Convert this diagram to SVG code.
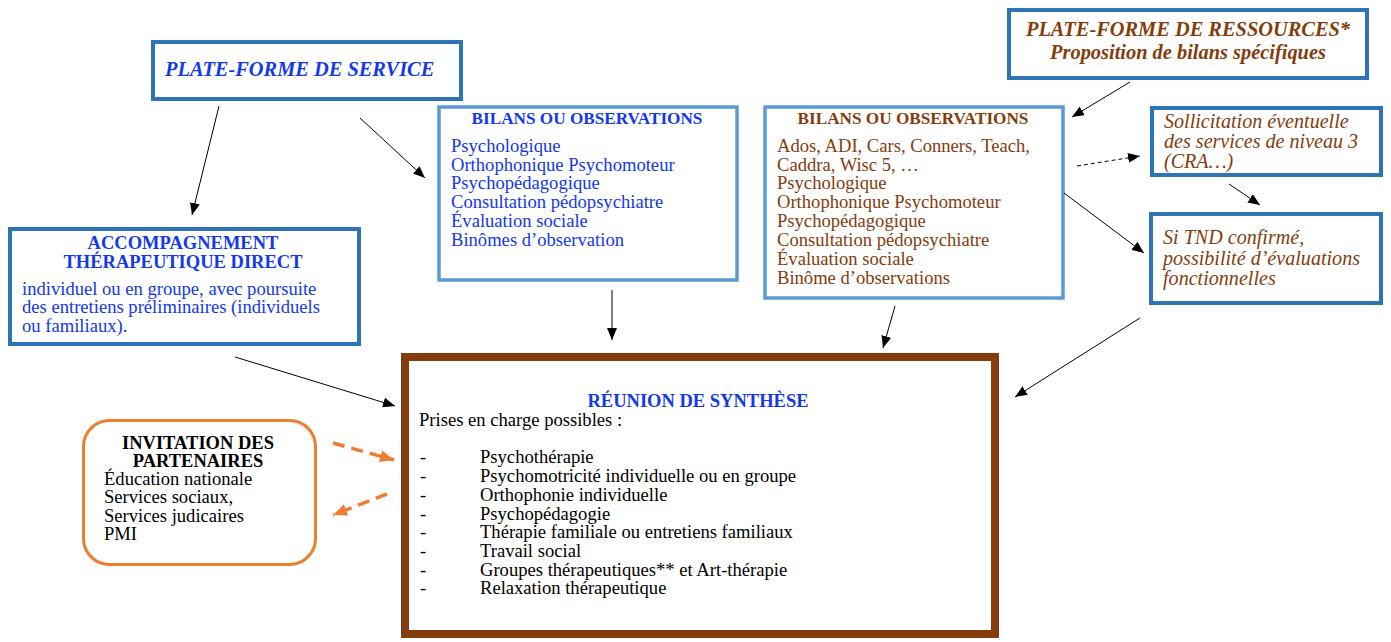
<svg xmlns="http://www.w3.org/2000/svg" width="1391" height="642" viewBox="0 0 1391 642">
<defs>
<marker id="ah" markerUnits="userSpaceOnUse" markerWidth="12" markerHeight="10" refX="12" refY="5" orient="auto"><path d="M0,0 L12,5 L0,10 z" fill="#000"/></marker>
<marker id="ao" markerUnits="userSpaceOnUse" markerWidth="14" markerHeight="12" refX="14" refY="6" orient="auto"><path d="M0,0 L14,6 L0,12 z" fill="#ed7d31"/></marker>
<style>
text{font-family:"Liberation Serif","Times New Roman",serif;}
.bd{fill:#fff;stroke:#2e74b5;stroke-width:4;}
.bl{fill:#fff;stroke:#5b9bd5;stroke-width:3.5;}
.blue{fill:#1238f0;}
.brown{fill:#843c0c;}
.blk{fill:#000;}
.body{font-size:18.6px;}
.it{font-size:20.1px;font-style:italic;}
.ttl{font-size:17.2px;font-weight:bold;}
.bt{font-size:18.5px;font-weight:bold;}
.bi{font-size:20.4px;font-weight:bold;font-style:italic;}
.c{text-anchor:middle;}
.ln{stroke:#000;stroke-width:1;fill:none;marker-end:url(#ah);}
.dn{stroke:#000;stroke-width:1;fill:none;stroke-dasharray:4 3;marker-end:url(#ah);}
.on{stroke:#ed7d31;stroke-width:3.5;fill:none;stroke-dasharray:12 7;marker-end:url(#ao);}
</style>
</defs>
<rect width="1391" height="642" fill="#fff"/>

<g id="plateforme-service">
<rect class="bd" x="153" y="42" width="308" height="57"/>
<text class="bi blue" x="165" y="76">PLATE-FORME DE SERVICE</text>
</g>

<g id="bilans-1">
<rect class="bl" x="439" y="107" width="298" height="173"/>
<text class="ttl blue c" x="587" y="124">BILANS OU OBSERVATIONS</text>
<text class="body blue" x="451" y="152">Psychologique</text>
<text class="body blue" x="451" y="171">Orthophonique Psychomoteur</text>
<text class="body blue" x="451" y="189">Psychopédagogique</text>
<text class="body blue" x="451" y="208">Consultation pédopsychiatre</text>
<text class="body blue" x="451" y="227">Évaluation sociale</text>
<text class="body blue" x="451" y="246">Binômes d’observation</text>
</g>

<g id="bilans-2">
<rect class="bl" x="765" y="107" width="298" height="191"/>
<text class="ttl brown c" x="913" y="124">BILANS OU OBSERVATIONS</text>
<text class="body brown" x="777" y="152">Ados, ADI, Cars, Conners, Teach,</text>
<text class="body brown" x="777" y="171">Caddra, Wisc 5, …</text>
<text class="body brown" x="777" y="189">Psychologique</text>
<text class="body brown" x="777" y="208">Orthophonique Psychomoteur</text>
<text class="body brown" x="777" y="227">Psychopédagogique</text>
<text class="body brown" x="777" y="246">Consultation pédopsychiatre</text>
<text class="body brown" x="777" y="265">Évaluation sociale</text>
<text class="body brown" x="777" y="284">Binôme d’observations</text>
</g>

<g id="plateforme-ressources">
<rect class="bd" x="1009" y="10" width="358" height="68"/>
<text class="bi brown c" x="1188" y="36">PLATE-FORME DE RESSOURCES*</text>
<text class="bi brown c" x="1188" y="59">Proposition de bilans spécifiques</text>
</g>

<g id="sollicitation">
<rect class="bd" x="1152" y="108" width="229" height="67"/>
<text class="it brown" x="1164" y="128">Sollicitation éventuelle</text>
<text class="it brown" x="1164" y="148">des services de niveau 3</text>
<text class="it brown" x="1164" y="168">(CRA…)</text>
</g>

<g id="si-tnd">
<rect class="bd" x="1151" y="214" width="230" height="89"/>
<text class="it brown" x="1163" y="244">Si TND confirmé,</text>
<text class="it brown" x="1163" y="265">possibilité d’évaluations</text>
<text class="it brown" x="1163" y="285">fonctionnelles</text>
</g>

<g id="accompagnement">
<rect class="bd" x="10" y="229" width="349" height="115"/>
<text class="bt blue c" x="183" y="249">ACCOMPAGNEMENT</text>
<text class="bt blue c" x="183" y="268">THÉRAPEUTIQUE DIRECT</text>
<text class="body blue" x="22" y="295">individuel ou en groupe, avec poursuite</text>
<text class="body blue" x="22" y="313">des entretiens préliminaires (individuels</text>
<text class="body blue" x="22" y="332">ou familiaux).</text>
</g>

<g id="invitation">
<rect x="83.5" y="420.5" width="232" height="144" rx="26" fill="#fff" stroke="#ed7d31" stroke-width="3"/>
<text class="bt blk c" x="198" y="449">INVITATION DES</text>
<text class="bt blk c" x="198" y="467">PARTENAIRES</text>
<text class="body blk" x="104" y="485">Éducation nationale</text>
<text class="body blk" x="104" y="503">Services sociaux,</text>
<text class="body blk" x="104" y="522">Services judicaires</text>
<text class="body blk" x="104" y="540">PMI</text>
</g>

<g id="reunion">
<rect x="405" y="357" width="590" height="277" fill="#fff" stroke="#843c0c" stroke-width="8"/>
<text class="bt blue c" x="698" y="407">RÉUNION DE SYNTHÈSE</text>
<text class="body blk" x="419" y="426">Prises en charge possibles :</text>
<g class="body blk">
<text x="420" y="463">-</text><text x="480" y="463">Psychothérapie</text>
<text x="420" y="482">-</text><text x="480" y="482">Psychomotricité individuelle ou en groupe</text>
<text x="420" y="501">-</text><text x="480" y="501">Orthophonie individuelle</text>
<text x="420" y="520">-</text><text x="480" y="520">Psychopédagogie</text>
<text x="420" y="538">-</text><text x="480" y="538">Thérapie familiale ou entretiens familiaux</text>
<text x="420" y="557">-</text><text x="480" y="557">Travail social</text>
<text x="420" y="576">-</text><text x="480" y="576">Groupes thérapeutiques** et Art-thérapie</text>
<text x="420" y="594">-</text><text x="480" y="594">Relaxation thérapeutique</text>
</g>
</g>

<g id="connectors">
<line class="ln" x1="219" y1="106" x2="192" y2="215"/>
<line class="ln" x1="360" y1="118" x2="425" y2="178"/>
<line class="ln" x1="612" y1="290" x2="612" y2="340"/>
<line class="ln" x1="895" y1="306" x2="883" y2="348"/>
<line class="ln" x1="1130" y1="82" x2="1072" y2="117"/>
<line class="dn" x1="1077" y1="166" x2="1140" y2="156"/>
<line class="ln" x1="1229" y1="184" x2="1260" y2="205"/>
<line class="ln" x1="1064" y1="193" x2="1144" y2="253"/>
<line class="ln" x1="1140" y1="318" x2="1015" y2="397"/>
<line class="ln" x1="235" y1="357" x2="395" y2="406"/>
<line class="on" x1="333" y1="443" x2="394" y2="460"/>
<line class="on" x1="387" y1="494" x2="333" y2="515"/>
</g>
</svg>
